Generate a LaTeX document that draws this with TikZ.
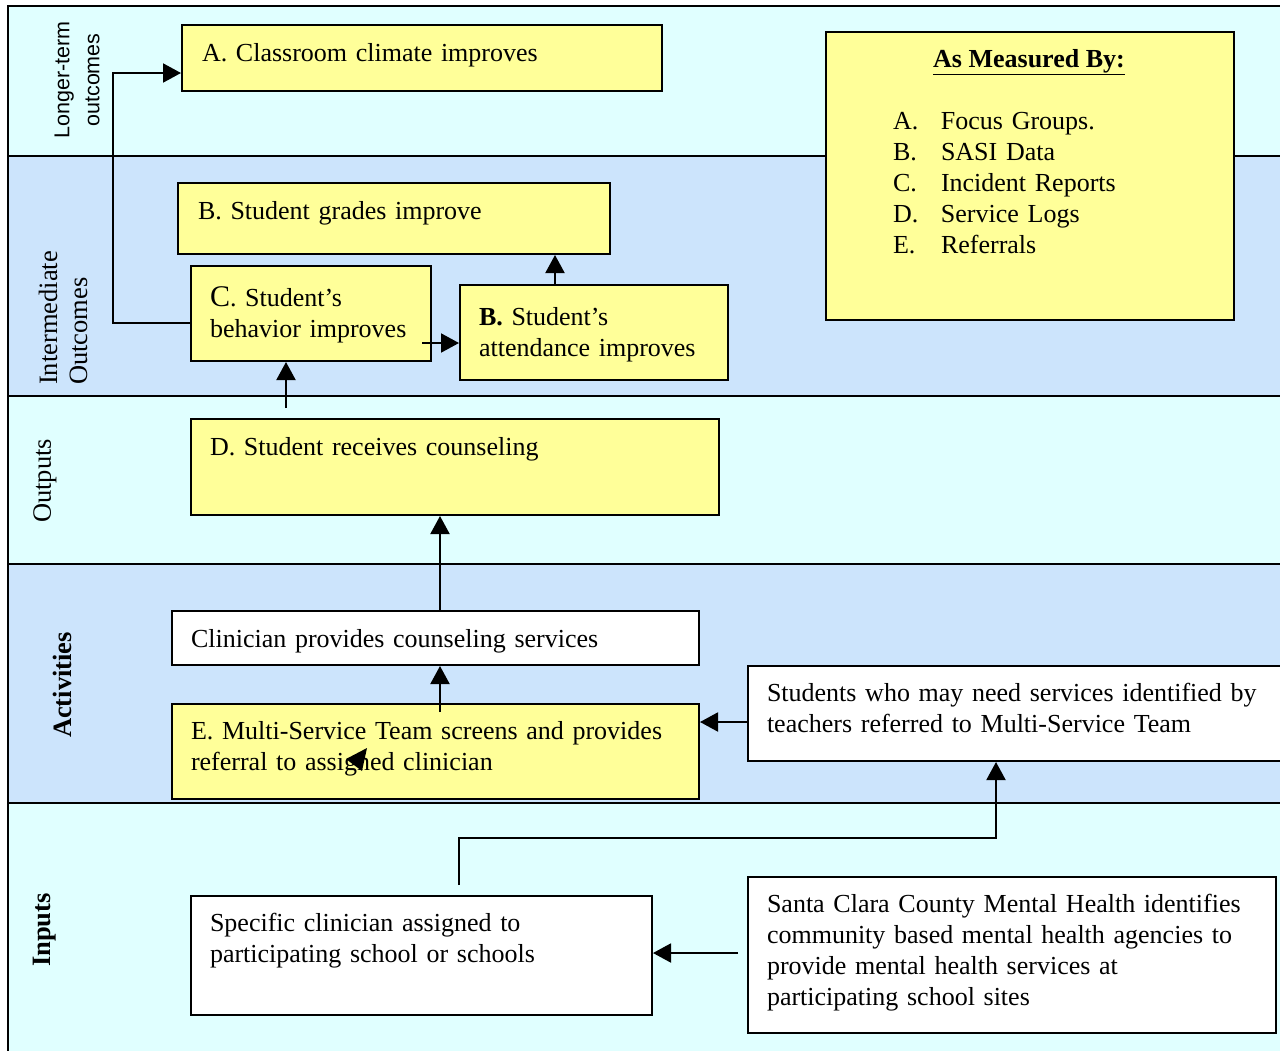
\documentclass[tikz,border=0pt]{standalone}
\usepackage{fontspec}
\setmainfont{Liberation Serif}
\newfontfamily\labelsans{Liberation Sans}
\usetikzlibrary{arrows.meta,calc}
\definecolor{bandcyan}{RGB}{224,255,255}
\definecolor{bandblue}{RGB}{204,228,252}
\definecolor{boxyellow}{RGB}{255,255,153}

\begin{document}
\begin{tikzpicture}[x=1pt,y=-1pt,
  every node/.style={inner sep=0pt, outer sep=0pt},
  box/.style={draw=black, line width=2pt, anchor=north west, outer sep=1pt},
  ybox/.style={box, fill=boxyellow},
  wbox/.style={box, fill=white},
  txt/.style={anchor=base west, align=left, text width=560pt,
              font=\fontsize{26}{31}\selectfont},
  rowlabel/.style={rotate=90, font=\fontsize{26.5}{30}\selectfont},
  arr/.style={line width=2pt, -{Triangle[length=18pt,width=19pt]}},
  rule/.style={draw=black, line width=2pt}
]
\clip (0,0) rectangle (1280,1050);
\fill[white] (0,0) rectangle (1280,1050);

% horizontal bands
\fill[bandcyan] (8,6)   rectangle (1284,156);
\fill[bandblue] (8,156) rectangle (1284,396);
\fill[bandcyan] (8,396) rectangle (1284,564);
\fill[bandblue] (8,564) rectangle (1284,803);
\fill[bandcyan] (8,803) rectangle (1284,1054);
\draw[rule] (1284,6) -- (8,6) -- (8,1054);
\foreach \y in {156,396,564,803}
  \draw[rule] (8,\y) -- (1284,\y);

% band titles
\node[rotate=90, align=center, font=\labelsans\fontsize{21.5}{30}\selectfont]
  (lt) at (77,80) {Longer-term\\outcomes};
\node[rowlabel, align=left] (io) at (63,318) {Intermediate\\Outcomes};
\node[rowlabel] (op) at (45,481) {Outputs};
\node[rowlabel, font=\fontsize{26.5}{30}\selectfont\bfseries] (ac) at (62,685) {Activities};
\node[rowlabel, font=\fontsize{26.5}{30}\selectfont\bfseries] (in) at (45,930) {Inputs};

% boxes
\node[ybox, minimum width=480pt, minimum height=66pt]  (A)  at (181,24)  {};
\node[ybox, minimum width=432pt, minimum height=71pt]  (Bg) at (177,182) {};
\node[ybox, minimum width=240pt, minimum height=95pt]  (C)  at (190,265) {};
\node[ybox, minimum width=268pt, minimum height=95pt]  (Ba) at (459,284) {};
\node[ybox, minimum width=528pt, minimum height=96pt]  (D)  at (190,418) {};
\node[wbox, minimum width=527pt, minimum height=54pt]  (Cl) at (171,610) {};
\node[ybox, minimum width=527pt, minimum height=95pt]  (E)  at (171,703) {};
\node[wbox, minimum width=545pt, minimum height=95pt]  (St) at (747,665) {};
\node[wbox, minimum width=461pt, minimum height=119pt] (Sp) at (190,895) {};
\node[wbox, minimum width=528pt, minimum height=156pt] (SC) at (747,876) {};
\node[ybox, minimum width=408pt, minimum height=288pt] (M)  at (825,31)  {};

% box texts
\node[txt] (At)  at (202,61)  {A. Classroom climate improves};
\node[txt] (Bgt) at (198,219) {B. Student grades improve};
\node[txt] (Ct)  at (210,306) {{\fontsize{30}{31}\selectfont C}. Student’s\\behavior improves};
\node[txt] (Bat) at (479,325) {\textbf{B.} Student’s\\attendance improves};
\node[txt] (Dt)  at (210,455) {D. Student receives counseling};
\node[txt] (Clt) at (191,647) {Clinician provides counseling services};
\node[txt] (Et)  at (191,739) {E. Multi-Service Team screens and provides\\referral to assigned clinician};
\node[txt] (Stt) at (767,701) {Students who may need services identified by\\teachers referred to Multi-Service Team};
\node[txt] (Spt) at (210,931) {Specific clinician assigned to\\participating school or schools};
\node[txt] (SCt) at (767,912) {Santa Clara County Mental Health identifies\\community based mental health agencies to\\provide mental health services at\\participating school sites};
\node[anchor=base, font=\fontsize{26}{31}\selectfont\bfseries] (Mt) at (1029,67) {\underline{As Measured By:}};
\node[txt, text width=320pt] (Ml) at (893,129) {%
  \begin{tabular}[t]{@{}p{48pt}@{}l@{}}
  A. & Focus Groups.\\
  B. & SASI Data\\
  C. & Incident Reports\\
  D. & Service Logs\\
  E. & Referrals
  \end{tabular}};

% helper positions for the vertical and horizontal runs
\coordinate (xl) at (286,0);
\coordinate (xb) at (555,0);
\coordinate (xm) at (440,0);
\coordinate (xs) at (459,0);
\coordinate (xt) at (996,0);
\coordinate (ym) at (0,722);
\coordinate (yl) at (0,953);

% connectors
\draw[arr] ([yshift=-9.5pt]C.west) -- ++(-77pt,0) |- ([yshift=-15pt]A.west);
\coordinate (cb) at ([xshift=-10pt,yshift=-29.5pt]C.east);
\draw[arr] (cb) -- (cb -| Ba.west);
\draw[arr] ($(D.north -| xl)+(0,-10)$) -- (C.south -| xl);
\draw[arr] (Ba.north -| xb) -- (Bg.south -| xb);
\draw[arr] (Cl.north -| xm) -- (D.south -| xm);
\draw[arr] ($(E.north -| xm)+(0,9)$) -- (Cl.south -| xm);
\draw[arr] (St.west |- ym) -- (E.east |- ym);
\draw[arr] ($(Sp.north -| xs)+(0,-10)$) -- ++(0,-47) -| (St.south -| xt);
\draw[arr] ($(SC.west |- yl)+(-9,0)$) -- (Sp.east |- yl);

% stray arrowhead over the referral line
\fill[black] (346,759) -- (367,748) -- (362,771) -- cycle;
\end{tikzpicture}
\end{document}
